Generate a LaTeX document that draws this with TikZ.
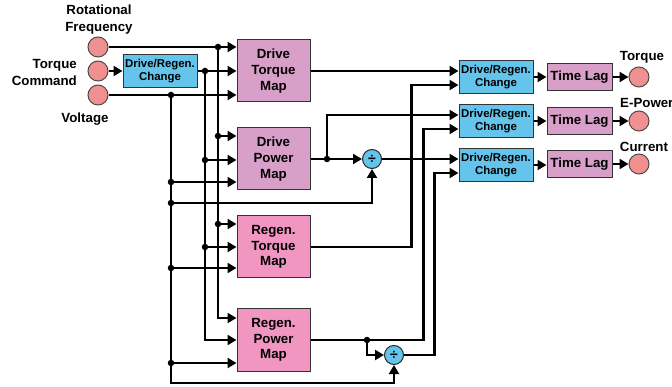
\documentclass[tikz,border=0pt]{standalone}
\usepackage{fontspec}
\setmainfont{Liberation Sans}
\usetikzlibrary{arrows.meta,calc}
\definecolor{boxblue}{RGB}{100,196,236}
\definecolor{drivepink}{RGB}{216,160,200}
\definecolor{regenpink}{RGB}{240,150,192}
\definecolor{salmon}{RGB}{240,144,144}
\begin{document}
\begin{tikzpicture}[x=1pt,y=-1pt,
  wire/.style={line width=2.5pt},
  conn/.style={line width=2.5pt,-{Triangle[length=9pt,width=10pt]}},
  mapbox/.style={draw=black!80,line width=1pt,minimum width=73pt,minimum height=62pt,inner sep=0pt,align=center,font=\fontsize{13.3}{15.8}\selectfont\bfseries},
  drivebox/.style={mapbox,fill=drivepink},
  regenbox/.style={mapbox,fill=regenpink},
  chgbox/.style={draw=black!80,line width=1pt,fill=boxblue,minimum width=74pt,minimum height=33pt,inner sep=0pt,align=center,font=\fontsize{11.4}{13.8}\selectfont\bfseries},
  lagbox/.style={draw=black!80,line width=1pt,fill=drivepink,minimum width=65pt,minimum height=27pt,inner sep=0pt,font=\fontsize{13.3}{15}\selectfont\bfseries},
  iocirc/.style={circle,draw=black!70,line width=1pt,fill=salmon,minimum size=20pt,inner sep=0pt},
  divc/.style={circle,draw=black!85,line width=1pt,fill=boxblue,minimum size=19pt,inner sep=0pt,font=\fontsize{14}{14}\selectfont\bfseries},
  lbl/.style={inner sep=0pt,font=\fontsize{13.3}{17}\selectfont\bfseries},
  dot/.style={circle,fill=black,inner sep=0pt,minimum size=6.5pt}
]
\useasboundingbox (0,0) rectangle (672,387);

% inputs
\node[iocirc] (cin1) at (98,47) {};
\node[iocirc] (cin2) at (98,71) {};
\node[iocirc] (cin3) at (98,95) {};
\node[lbl,align=center] (lrot) at (99,20) {Rotational\\Frequency};
\node[lbl,align=right,anchor=east] (ltq) at (77,72.5) {Torque\\Command};
\node[lbl] (lvolt) at (85,119) {Voltage};

% blocks
\node[chgbox] (drc) at (160,71) {Drive/Regen.\\Change};
\node[drivebox] (dtm) at (273.5,71) {Drive\\Torque\\Map};
\node[drivebox] (dpm) at (273.5,159) {Drive\\Power\\Map};
\node[regenbox] (rtm) at (273.5,247) {Regen.\\Torque\\Map};
\node[regenbox] (rpm) at (273.5,340) {Regen.\\Power\\Map};
\node[divc] (div1) at (372,159) {÷};
\node[divc] (div2) at (394,355) {÷};

\node[chgbox] (o1) at (496,77) {Drive/Regen.\\Change};
\node[chgbox] (o2) at (496,121) {Drive/Regen.\\Change};
\node[chgbox] (o3) at (496,165) {Drive/Regen.\\Change};
\node[lagbox] (tl1) at (579.5,77) {Time Lag};
\node[lagbox] (tl2) at (579.5,121) {Time Lag};
\node[lagbox] (tl3) at (579.5,164) {Time Lag};
\node[iocirc] (cout1) at (639,77) {};
\node[iocirc] (cout2) at (639,121) {};
\node[iocirc] (cout3) at (639,164) {};
\node[lbl] (ltorque) at (642,57) {Torque};
\node[lbl,anchor=west] (lep) at (620,103) {E-Power};
\node[lbl] (lcur) at (644,147) {Current};

% ports
\path (dtm.west) ++(0,-24) coordinate (dtm1) (dtm.west) coordinate (dtm2) (dtm.west) ++(0,24) coordinate (dtm3);
\path (dpm.west) ++(0,-23) coordinate (dpm1) (dpm.west) ++(0,1) coordinate (dpm2) (dpm.west) ++(0,23) coordinate (dpm3);
\path (rtm.west) ++(0,-23) coordinate (rtm1) (rtm.west) coordinate (rtm2) (rtm.west) ++(0,21) coordinate (rtm3);
\path (rpm.west) ++(0,-22) coordinate (rpm1) (rpm.west) coordinate (rpm2) (rpm.west) ++(0,23) coordinate (rpm3);
\path (o1.west) ++(0,-6) coordinate (o1a) (o1.west) ++(0,8) coordinate (o1b);
\path (o2.west) ++(0,-6) coordinate (o2a) (o2.west) ++(0,8) coordinate (o2b);
\path (o3.west) ++(0,-6) coordinate (o3a) (o3.west) ++(0,8) coordinate (o3b);

\coordinate (j1) at (218,47);
\coordinate (j2) at (205,71);
\coordinate (j3) at (171,95);
\coordinate (v203) at (171,203);
\coordinate (bot) at (171,383);
\coordinate (dj) at (327,159);
\coordinate (rj) at (367,340);

% left wiring
\draw[conn] (cin1.east) -- (dtm1);
\draw[conn] (cin2.east) -- (drc.west);
\draw[conn] (drc.east) -- (dtm2);
\draw[conn] (cin3.east) -- (dtm3);

\draw[conn] (j1) |- (rpm1);
\draw[conn] (j1 |- dpm1) -- (dpm1);
\draw[conn] (j1 |- rtm1) -- (rtm1);

\draw[conn] (j2) |- (rpm2);
\draw[conn] (j2 |- dpm2) -- (dpm2);
\draw[conn] (j2 |- rtm2) -- (rtm2);

\draw[conn] (j3) -- (bot) -| (div2.south);
\draw[conn] (j3 |- dpm3) -- (dpm3);
\draw[conn] (v203) -| (div1.south);
\draw[conn] (j3 |- rtm3) -- (rtm3);
\draw[conn] (j3 |- rpm3) -- (rpm3);

% middle / right wiring
\draw[conn] (dtm.east) -- (dtm.east -| o1.west);
\draw[conn] (dpm.east) -- (div1.west);
\draw[conn] (dj) |- (o2a);
\draw[conn] (div1.east) -- (o3a);
\draw[conn] (rtm.east) -| ($(o1b)+(-47,0)$) -- (o1b);
\draw[conn] (rpm.east) -| ($(o2b)+(-35,0)$) -- (o2b);
\draw[conn] (rj) |- (div2.west);
\draw[conn] (div2.east) -| ($(o3b)+(-24,0)$) -- (o3b);

\foreach \i in {1,2,3}{
  \draw[conn] (o\i.east) -- (tl\i.west |- o\i.east);
  \draw[conn] (tl\i.east) -- (cout\i.west);
}

% junction dots
\foreach \p in {j1,j2,j3,v203,dj,rj}{\node[dot] at (\p) {};}
\node[dot] at (j1 |- dpm1) {};
\node[dot] at (j1 |- rtm1) {};
\node[dot] at (j2 |- dpm2) {};
\node[dot] at (j2 |- rtm2) {};
\node[dot] at (j3 |- dpm3) {};
\node[dot] at (j3 |- rtm3) {};
\node[dot] at (j3 |- rpm3) {};
\end{tikzpicture}
\end{document}
